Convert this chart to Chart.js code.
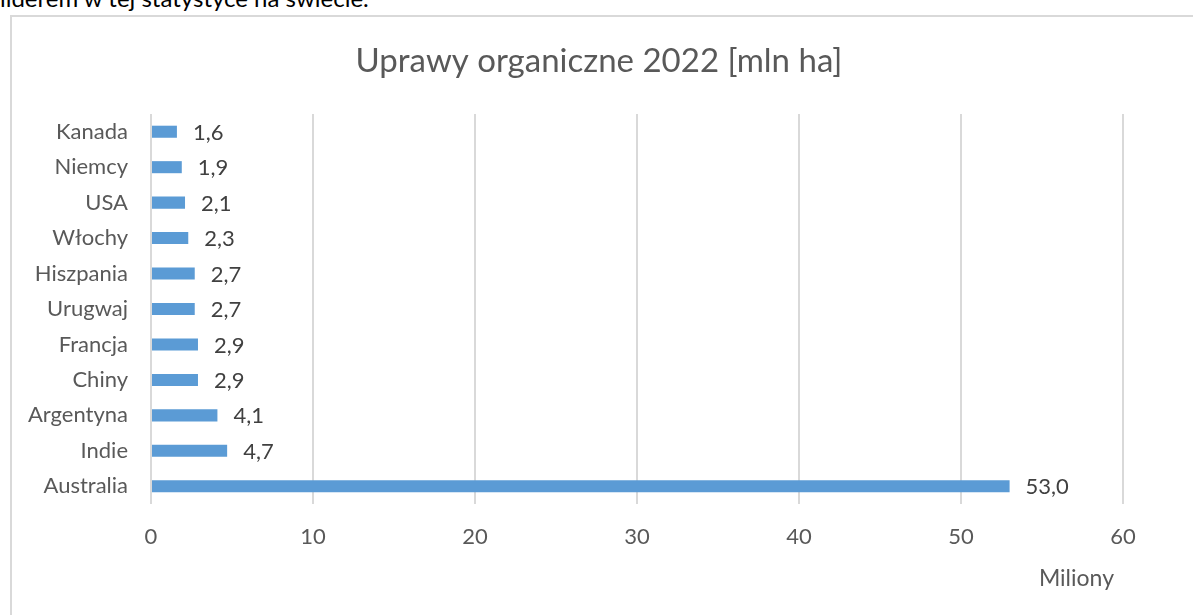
<!DOCTYPE html>
<html lang="pl">
<head>
<meta charset="utf-8">
<title>Uprawy organiczne 2022</title>
<script src="https://cdn.jsdelivr.net/npm/chart.js@4.4.1/dist/chart.umd.min.js"></script>
<style>
    html, body { margin: 0; padding: 0; background: #fff; overflow: hidden; }
    body { width: 1193px; height: 615px; position: relative; font-family: Lato, sans-serif; }
    #tekst { position: absolute; left: 0; top: -13px; font-size: 24px; line-height: 22px; color: #000; white-space: nowrap; }
    #ramka { position: absolute; left: 10px; top: 15px; width: 1300px; height: 700px; border: 2px solid #d9d9d9; }
    #wykres-box { position: absolute; left: 0; top: 0; width: 1193px; height: 615px; }
</style>
</head>
<body>
<div id="tekst">liderem w tej statystyce na świecie.</div>
<div id="ramka"></div>
<div id="wykres-box"><canvas id="grafico"></canvas></div>
<script>
// Dane z wykresu
const kraje = ["Kanada", "Niemcy", "USA", "Włochy", "Hiszpania", "Urugwaj", "Francja", "Chiny", "Argentyna", "Indie", "Australia"];
const powierzchnia = [1.6, 1.9, 2.1, 2.3, 2.7, 2.7, 2.9, 2.9, 4.1, 4.7, 53.0];
const osX = [0, 10, 20, 30, 40, 50, 60];
const tytul = "Uprawy organiczne 2022 [mln ha]";

// Tytuł, etykiety wartości przy słupkach i "Miliony"
const etykiety = {
    id: "etykiety",
    afterDatasetsDraw(chart) {
        const ctx = chart.ctx;
        const meta = chart.getDatasetMeta(0);
        ctx.save();
        ctx.textBaseline = "middle";

        ctx.font = "33px Lato";
        ctx.fillStyle = "#595959";
        ctx.textAlign = "center";
        ctx.fillText(tytul, 599, 61);

        ctx.font = "22px Lato";
        ctx.fillStyle = "#404040";
        ctx.textAlign = "left";
        meta.data.forEach((bar, i) => {
            ctx.fillText(powierzchnia[i].toFixed(1).replace(".", ","), bar.x + 16, bar.y + 1);
        });

        ctx.font = "23px Lato";
        ctx.fillStyle = "#595959";
        ctx.textAlign = "right";
        ctx.fillText("Miliony", chart.chartArea.right - 9, 579);
        ctx.restore();
    }
};

const ctx = document.getElementById("grafico").getContext("2d");
new Chart(ctx, {
    type: "bar",
    data: {
        labels: kraje,
        datasets: [{
            data: powierzchnia,
            backgroundColor: "#5b9bd5",
            borderWidth: 0,
            barPercentage: 0.34,
            categoryPercentage: 1
        }]
    },
    options: {
        indexAxis: "y",
        responsive: true,
        maintainAspectRatio: false,
        animation: false,
        layout: { padding: { left: 0, right: 70, top: 114, bottom: 0 } },
        plugins: {
            legend: { display: false },
            tooltip: { enabled: false },
            title: { display: false }
        },
        scales: {
            x: {
                min: osX[0],
                max: osX[osX.length - 1],
                afterBuildTicks(scale) {
                    scale.ticks = osX.map(v => ({ value: v }));
                },
                afterFit(scale) { scale.height = 111; },
                grid: { color: "#d9d9d9", lineWidth: 2, drawTicks: false },
                border: { display: false },
                ticks: {
                    color: "#595959",
                    padding: 20,
                    font: { family: "Lato", size: 22 }
                }
            },
            y: {
                afterFit(scale) { scale.width = 151; },
                grid: { display: false },
                border: { display: false },
                ticks: {
                    color: "#595959",
                    padding: 15,
                    font: { family: "Lato", size: 22 }
                }
            }
        }
    },
    plugins: [etykiety]
});
</script>
</body>
</html>
